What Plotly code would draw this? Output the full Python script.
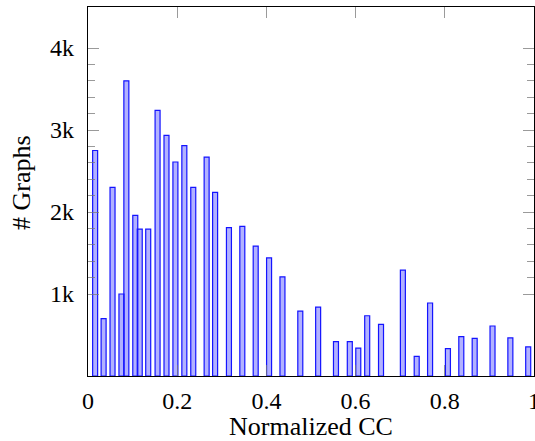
import plotly.graph_objects as go

# normalized CC bins (bar centres) and number of graphs per bin
cc_values = [0.016, 0.035, 0.055, 0.075, 0.086, 0.106, 0.116, 0.135, 0.156, 0.176,
             0.196, 0.216, 0.236, 0.266, 0.285, 0.316, 0.346, 0.376, 0.406, 0.436,
             0.476, 0.516, 0.556, 0.587, 0.606, 0.626, 0.657, 0.706, 0.737, 0.767,
             0.807, 0.837, 0.867, 0.907, 0.947, 0.987]
graph_counts = [2750, 700, 2300, 1000, 3600, 1960, 1790, 1790, 3240, 2935,
                2610, 2810, 2300, 2670, 2240, 1810, 1825, 1585, 1440, 1210,
                790, 840, 420, 420, 340, 735, 630, 1290, 240, 890,
                335, 480, 460, 610, 465, 355]

x_ticks = [0, 0.2, 0.4, 0.6, 0.8, 1]
x_labels = ["0", "0.2", "0.4", "0.6", "0.8", "1"]
y_ticks = [1000, 2000, 3000, 4000]
y_labels = ["1k", "2k", "3k", "4k"]
y_minor = [1200, 1400, 1600, 1800, 2200, 2400, 2600, 2800,
           3200, 3400, 3600, 3800]

font_family = "Liberation Serif, Times New Roman, DejaVu Serif, serif"
tick_grey = "rgba(120,120,120,0.75)"

fig = go.Figure()
fig.add_trace(go.Bar(x=cc_values, y=graph_counts, width=0.0112,
                     marker=dict(color="rgba(0,0,255,0.3)",
                                 line=dict(color="rgb(20,20,255)", width=1.2))))

fig.update_layout(
    width=535, height=441,
    margin=dict(l=88, r=1, t=7, b=65, autoexpand=False),
    plot_bgcolor="white", paper_bgcolor="white",
    showlegend=False,
    font=dict(family=font_family, size=24, color="black"),
)

fig.update_xaxes(
    range=[0, 1], tickvals=x_ticks, ticktext=x_labels,
    ticks="inside", ticklen=11, tickwidth=1.3, tickcolor=tick_grey,
    showline=True, linecolor="black", linewidth=1.3, mirror="ticks",
    showgrid=False, zeroline=False, ticklabelstandoff=3, automargin=False,
    ticklabeloverflow="allow",
    title=dict(text="Normalized CC", font=dict(size=26), standoff=3),
)
fig.update_yaxes(
    range=[0, 4500], tickvals=y_ticks, ticktext=y_labels,
    ticks="inside", ticklen=11, tickwidth=1.3, tickcolor=tick_grey,
    minor=dict(tickvals=y_minor, ticks="inside", ticklen=7,
               tickwidth=1.3, tickcolor=tick_grey),
    showline=True, linecolor="black", linewidth=1.3, mirror="ticks",
    showgrid=False, zeroline=False, ticklabelstandoff=8, automargin=False,
)

# y title sits a little above the middle of the axis in the original
fig.add_annotation(text="# Graphs", textangle=-90, showarrow=False,
                   xref="paper", yref="paper", x=0, y=0.523,
                   xanchor="center", yanchor="middle", xshift=-67,
                   font=dict(size=26))

# drop the default page margin so the figure sits at the window's corner
fig.write_html("out.html", config={"displayModeBar": False},
               post_script="document.body.style.margin='0';")
